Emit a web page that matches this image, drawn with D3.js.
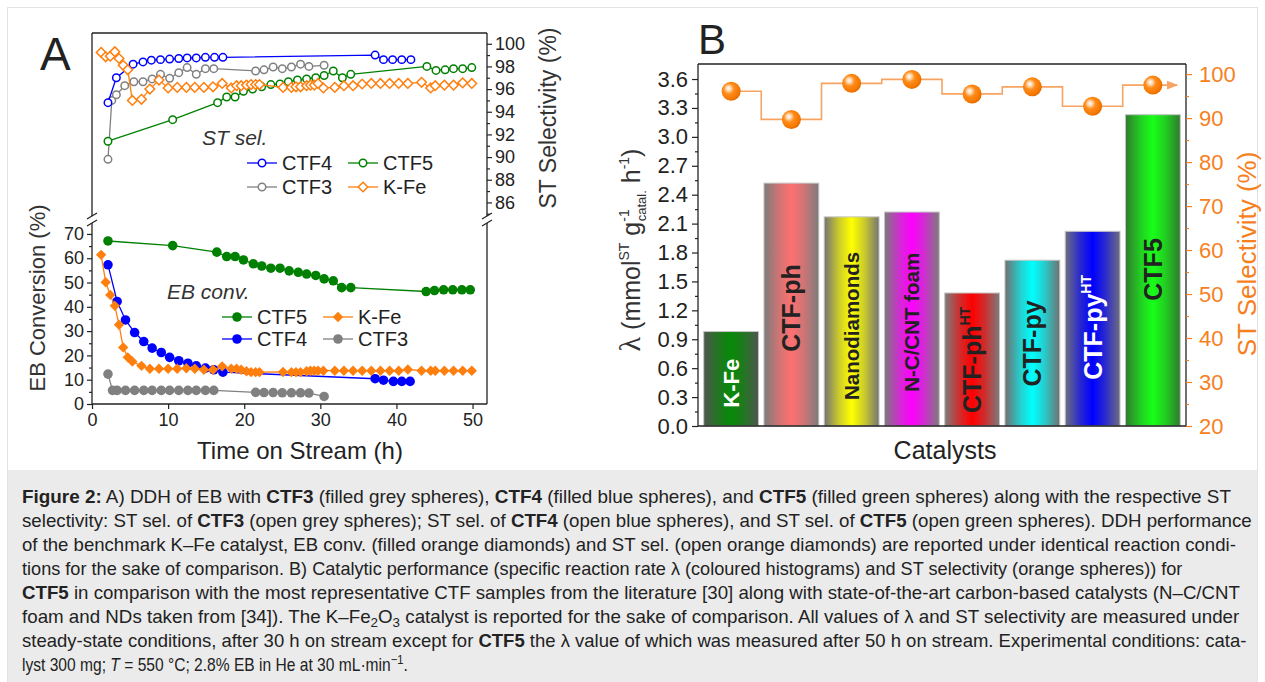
<!DOCTYPE html>
<html><head><meta charset="utf-8">
<script src="https://cdn.jsdelivr.net/npm/d3@7"></script>
<style>
body{margin:0;background:#fff;}
svg{display:block;}
</style></head><body>
<svg id="fig" width="1265" height="682"></svg>
<script>
// ---------- panel A : time on stream (h) ----------
var ctf4SelTime = [2.1,3.2,5.4,6.7,7.8,9.0,10.2,11.4,12.5,13.7,14.9,16.1,17.2,37.2,38.3,39.5,40.7,41.9];
var ctf4Sel     = [94.8,97.0,98.2,98.4,98.55,98.6,98.65,98.7,98.75,98.75,98.8,98.8,98.8,99.0,98.6,98.6,98.6,98.6];
var ctf3SelTime = [2.1,2.6,3.2,4.3,5.5,6.7,7.9,9.0,10.2,11.4,12.5,13.7,14.9,16.0,21.5,22.6,23.8,25.0,26.2,27.4,28.5,30.5];
var ctf3Sel     = [89.8,95.0,95.5,96.3,96.65,96.65,96.9,97.3,96.95,97.45,97.9,97.3,97.8,97.8,97.6,97.7,97.95,97.8,97.95,98.2,98.0,98.1];
var ctf5SelTime = [2.1,10.6,16.5,17.7,18.8,19.9,21.1,22.3,23.5,24.7,25.8,27.0,28.2,29.4,30.5,31.7,32.9,34.0,44.0,45.2,46.4,47.5,48.7,49.9];
var ctf5Sel     = [91.4,93.3,94.8,95.3,95.3,95.8,96.0,96.2,96.4,96.45,96.65,96.8,96.9,97.0,97.2,97.6,97.0,97.3,98.0,97.65,97.7,97.8,97.8,97.9];

var ctf5ConvTime = [2.1,10.6,16.4,17.7,18.8,19.9,21.2,22.3,23.5,24.7,25.9,27.1,28.2,29.4,30.5,31.7,32.8,34.0,43.9,45.0,46.2,47.4,48.6,49.7];
var ctf5Conv     = [67.1,65.2,62.5,60.7,60.7,59.3,57.7,56.8,55.9,55.9,54.8,54.2,53.5,52.9,51.5,50.7,47.9,47.9,46.3,46.7,47.0,47.0,47.0,47.0];
var ctf4ConvTime = [2.1,3.3,4.4,5.6,6.8,7.9,9.1,10.2,11.4,12.6,13.7,14.9,16.0,17.2,37.2,38.3,39.6,40.7,41.8];
var ctf4Conv     = [57.3,42.2,34.6,29.4,25.7,23.0,21.2,19.2,17.8,16.8,15.7,14.8,14.1,13.1,10.4,9.8,9.3,9.3,9.3];
var ctf3ConvTime = [2.1,2.7,3.3,4.4,5.6,6.8,7.9,9.1,10.2,11.4,12.6,13.7,14.9,16.0,21.5,22.6,23.8,25.0,26.2,27.4,28.5,30.5];
var ctf3Conv     = [12.3,5.6,5.6,5.6,5.6,5.6,5.6,5.6,5.6,5.6,5.6,5.6,5.6,5.6,4.8,4.7,4.7,4.6,4.6,4.6,4.5,3.1];

var kfeTime = [1.2,1.8,2.4,3.0,3.55,4.1,4.7,5.3,6.5,7.6,8.8,10.0,11.2,12.4,13.5,14.7,15.9,17.1,18.3,19.0,19.6,20.3,20.9,21.5,22.0,
               25.1,26.2,26.8,27.4,28.2,28.7,29.2,29.7,30.4,31.9,33.1,34.3,35.5,36.7,37.9,39.1,40.3,41.5,43.3,44.5,45.1,46.3,47.5,48.7,49.9];
var kfeConv = [61.4,50.1,44.9,40.4,32.6,23.3,19.2,17.5,15.7,14.5,14.5,14.5,14.5,14.7,14.5,14.1,14.1,15.5,14.5,14.5,14.1,13.5,13.1,13.1,13.1,
               13.2,13.1,13.1,13.1,13.5,13.7,13.7,13.7,13.7,13.7,13.7,13.7,13.7,13.7,13.7,13.7,13.7,14.2,13.7,13.7,13.7,13.7,13.7,13.7,13.7];
var kfeSel  = [99.24,98.85,98.9,99.3,98.7,98.1,97.7,95.0,95.1,96.0,96.8,96.1,96.15,96.15,96.15,96.15,96.2,96.5,96.1,96.3,96.3,96.35,96.4,96.4,96.4,
               96.15,96.15,96.2,96.2,96.3,96.35,96.35,96.5,96.1,96.15,96.3,96.3,96.45,96.5,96.5,96.5,96.5,96.5,96.6,96.1,96.3,96.35,96.35,96.55,96.5];

var timeTicks = [0,10,20,30,40,50];
var convTicks = [0,10,20,30,40,50,60,70];
var selTicksA = [86,88,90,92,94,96,98,100];

// ---------- panel B ----------
var catalysts  = ["K-Fe","CTF-ph","Nanodiamonds","N-C/CNT foam","CTF-phHT","CTF-py","CTF-pyHT","CTF5"];
var lambdaRate = [0.98,2.52,2.17,2.22,1.38,1.72,2.02,3.23];
var stSel      = [96.1,89.7,97.9,98.8,95.5,97.1,92.7,97.5];
var lambdaTicks = [0,0.3,0.6,0.9,1.2,1.5,1.8,2.1,2.4,2.7,3.0,3.3,3.6];
var selTicksB   = [20,30,40,50,60,70,80,90,100];

var FONT = '"Liberation Sans", Arial, sans-serif';
var INK = "#222";
var BLUE = "#0000ff", GREEN = "#008000", GREY = "#808080", ORANGE = "#ff7f0e";

var svg = d3.select("#fig").attr("font-family", FONT);
var defs = svg.append("defs");

svg.append("rect").attr("x", 7.5).attr("y", 7.5).attr("width", 1250).attr("height", 680)
   .attr("fill", "#fff").attr("stroke", "#e3e3e3");
svg.append("rect").attr("x", 8).attr("y", 470).attr("width", 1249).attr("height", 212).attr("fill", "#ebebeb");

function styleAxis(g, fs, color) {
  g.attr("font-family", FONT);
  g.select(".domain").remove();
  g.selectAll(".tick line").attr("stroke", color || INK).attr("stroke-width", 1.2);
  g.selectAll(".tick text").attr("font-size", fs).attr("fill", color || INK);
}
function line(g, x1, y1, x2, y2, color, w) {
  g.append("line").attr("x1", x1).attr("y1", y1).attr("x2", x2).attr("y2", y2)
   .attr("stroke", color || INK).attr("stroke-width", w || 1.3);
}

// ================= PANEL A =================
var gA = svg.append("g");
var xA = d3.scaleLinear().domain([0, 51.9]).range([92, 487]);
var yConv = d3.scaleLinear().domain([0, 74.5]).range([404, 223]);
var ySel = d3.scaleLinear().domain([84.8, 100.95]).range([216, 33]);

// frame with axis break
line(gA, 92, 33, 487, 33);
line(gA, 92, 404, 487, 404);
[92, 487].forEach(function(x) {
  line(gA, x, 33, x, 216);
  line(gA, x, 223, x, 404);
  line(gA, x - 5, 219, x + 5, 213, INK, 1.2);
  line(gA, x - 5, 226, x + 5, 220, INK, 1.2);
});

var axL = gA.append("g").attr("transform", "translate(92,0)")
  .call(d3.axisLeft(yConv).tickValues(convTicks).tickSize(5).tickPadding(3));
styleAxis(axL, 18);
var axLm = gA.append("g").attr("transform", "translate(92,0)")
  .call(d3.axisLeft(yConv).tickValues(convTicks.slice(0, -1).map(function(v){return v + 5;})).tickSize(3).tickFormat(""));
styleAxis(axLm, 18);
var axR = gA.append("g").attr("transform", "translate(487,0)")
  .call(d3.axisRight(ySel).tickValues(selTicksA).tickSize(5).tickPadding(3));
styleAxis(axR, 18);
var axRm = gA.append("g").attr("transform", "translate(487,0)")
  .call(d3.axisRight(ySel).tickValues(selTicksA.map(function(v){return v - 1;})).tickSize(3).tickFormat(""));
styleAxis(axRm, 18);
var axB = gA.append("g").attr("transform", "translate(0,404)")
  .call(d3.axisBottom(xA).tickValues(timeTicks).tickSize(5).tickPadding(4));
styleAxis(axB, 18);

var circleOpen = d3.symbol(d3.symbolCircle, 44)();
var circleFill = d3.symbol(d3.symbolCircle, 72)();
function diamond(r) { return "M0," + (-r) + "L" + r + ",0L0," + r + "L" + (-r) + ",0Z"; }

function marker(sel, shape, color) {
  var open = shape === "oc" || shape === "od";
  sel.attr("d", shape === "oc" ? circleOpen : shape === "fc" ? circleFill : shape === "od" ? diamond(4.8) : diamond(5.2))
     .attr("fill", open ? "#fff" : color)
     .attr("stroke", open ? color : "none")
     .attr("stroke-width", 1.5);
}

function drawSeries(times, vals, y, color, shape) {
  var pts = times.map(function(t, i) { return [xA(t), y(vals[i])]; });
  gA.append("path").attr("d", d3.line()(pts)).attr("fill", "none")
    .attr("stroke", color).attr("stroke-width", 1.3);
  gA.append("g").selectAll("path").data(pts).enter().append("path")
    .attr("transform", function(d) { return "translate(" + d + ")"; })
    .call(marker, shape, color);
}

drawSeries(ctf3SelTime, ctf3Sel, ySel, GREY, "oc");
drawSeries(ctf4SelTime, ctf4Sel, ySel, BLUE, "oc");
drawSeries(ctf5SelTime, ctf5Sel, ySel, GREEN, "oc");
drawSeries(kfeTime, kfeSel, ySel, ORANGE, "od");

drawSeries(ctf3ConvTime, ctf3Conv, yConv, GREY, "fc");
drawSeries(ctf4ConvTime, ctf4Conv, yConv, BLUE, "fc");
drawSeries(ctf5ConvTime, ctf5Conv, yConv, GREEN, "fc");
drawSeries(kfeTime, kfeConv, yConv, ORANGE, "fd");

// legends
function legendItem(x, y, name, color, shape) {
  line(gA, x, y, x + 30, y, color, 1.3);
  gA.append("path").attr("transform", "translate(" + (x + 15) + "," + y + ")").call(marker, shape, color);
  gA.append("text").attr("x", x + 35).attr("y", y).attr("dy", "0.35em")
    .attr("font-size", 20).attr("fill", INK).text(name);
}
gA.append("text").attr("x", 202).attr("y", 138).attr("dy", "0.35em").attr("font-size", 21)
  .attr("font-style", "italic").attr("fill", "#333").text("ST sel.");
legendItem(247, 163, "CTF4", BLUE, "oc");
legendItem(348, 163, "CTF5", GREEN, "oc");
legendItem(247, 187, "CTF3", GREY, "oc");
legendItem(348, 187, "K-Fe", ORANGE, "od");

gA.append("text").attr("x", 167).attr("y", 292).attr("dy", "0.35em").attr("font-size", 21)
  .attr("font-style", "italic").attr("fill", "#333").text("EB conv.");
legendItem(222, 317, "CTF5", GREEN, "fc");
legendItem(222, 339, "CTF4", BLUE, "fc");
legendItem(323, 317, "K-Fe", ORANGE, "fd");
legendItem(323, 339, "CTF3", GREY, "fc");

// titles
gA.append("text").attr("x", 40).attr("y", 70).attr("font-size", 46).attr("fill", INK).text("A");
gA.append("text").attr("x", 300).attr("y", 459).attr("text-anchor", "middle")
  .attr("font-size", 24).attr("fill", INK).text("Time on Stream (h)");
gA.append("text").attr("transform", "translate(45,298) rotate(-90)").attr("text-anchor", "middle")
  .attr("font-size", 22).attr("fill", "#333").text("EB Conversion (%)");
gA.append("text").attr("transform", "translate(556,118) rotate(-90)").attr("text-anchor", "middle")
  .attr("font-size", 23).attr("fill", "#333").text("ST Selectivity (%)");

// ================= PANEL B =================
var gB = svg.append("g");
var xB = d3.scaleBand().domain(catalysts).range([698, 1186]).paddingInner(0.09).paddingOuter(0.095);
var yL = d3.scaleLinear().domain([0, 3.756]).range([426, 64]);
var yR = d3.scaleLinear().domain([20, 102.3]).range([426, 64]);

var barEdge   = ["#4e564e","#7c7c7c","#747474","#7c7c7c","#7c7c7c","#707070","#6e6e7e","#2f7a2f"];
var barCenter = ["#078a07","#ff7070","#ffff00","#ff00ff","#ff0000","#00ffff","#0000ff","#19ff19"];
catalysts.forEach(function(c, i) {
  var gr = defs.append("linearGradient").attr("id", "bar" + i);
  var mid = d3.interpolateRgb(barEdge[i], barCenter[i])(0.65);
  [[0, barEdge[i]], [0.28, mid], [0.5, barCenter[i]], [0.72, mid], [1, barEdge[i]]].forEach(function(s) {
    gr.append("stop").attr("offset", s[0]).attr("stop-color", s[1]);
  });
});
var sph = defs.append("radialGradient").attr("id", "sphere").attr("cx", "0.4").attr("cy", "0.4").attr("r", "0.62")
  .attr("fx", "0.36").attr("fy", "0.34");
[[0, "#ffffff"], [0.2, "#ffd9b0"], [0.45, "#ff8c1a"], [0.85, "#f57800"], [1, "#e06a00"]].forEach(function(s) {
  sph.append("stop").attr("offset", s[0]).attr("stop-color", s[1]);
});
defs.append("marker").attr("id", "arrow").attr("viewBox", "0 0 10 10").attr("refX", 9).attr("refY", 5)
  .attr("markerWidth", 7).attr("markerHeight", 7).attr("orient", "auto")
  .append("path").attr("d", "M0,1L10,5L0,9Z").attr("fill", "#f7a463");

gB.append("g").selectAll("rect").data(catalysts).enter().append("rect")
  .attr("x", function(d) { return xB(d); })
  .attr("y", function(d, i) { return yL(lambdaRate[i]); })
  .attr("width", xB.bandwidth())
  .attr("height", function(d, i) { return yL(0) - yL(lambdaRate[i]); })
  .attr("fill", function(d, i) { return "url(#bar" + i + ")"; })
  .attr("stroke", "#c4c4c4").attr("stroke-width", 1);

// bar labels (start position in lambda units, colour)
var labelStart = [0.19, 0.77, 0.27, 0.355, 0.135, 0.41, 0.48, 1.30];
var labelSize  = [22, 25, 20.5, 20.5, 25, 25, 25, 25];
var labelColor = ["#fff", INK, INK, INK, INK, INK, "#fff", INK];
catalysts.forEach(function(c, i) {
  var cx = xB(c) + xB.bandwidth() / 2;
  var t = gB.append("text").attr("transform", "translate(" + cx + "," + yL(labelStart[i]) + ") rotate(-90)")
    .attr("dy", "0.36em").attr("font-weight", "bold").attr("font-size", labelSize[i]).attr("fill", labelColor[i]);
  if (/HT$/.test(c)) {
    t.append("tspan").text(c.replace(/HT$/, ""));
    t.append("tspan").attr("font-size", 14).attr("dy", -11).text("HT");
  } else {
    t.text(c);
  }
});

// selectivity steps and spheres
var selPts = catalysts.map(function(c, i) { return [xB(c) + xB.bandwidth() / 2, yR(stSel[i])]; });
var lastPt = selPts[selPts.length - 1];
gB.append("path").attr("d", d3.line().curve(d3.curveStep)(selPts.concat([[1177, lastPt[1]]])))
  .attr("fill", "none").attr("stroke", "#f7a463").attr("stroke-width", 1.6).attr("marker-end", "url(#arrow)");
gB.append("g").selectAll("circle").data(selPts).enter().append("circle")
  .attr("cx", function(d) { return d[0]; }).attr("cy", function(d) { return d[1]; })
  .attr("r", 9.5).attr("fill", "url(#sphere)");

// frame and axes
line(gB, 698, 64, 1186, 64);
line(gB, 698, 426, 1186, 426);
line(gB, 698, 64, 698, 426);
line(gB, 1186, 64, 1186, 426);

var bl = gB.append("g").attr("transform", "translate(698,0)")
  .call(d3.axisLeft(yL).tickValues(lambdaTicks).tickFormat(d3.format(".1f")).tickSize(6).tickPadding(4));
styleAxis(bl, 22);
var blm = gB.append("g").attr("transform", "translate(698,0)")
  .call(d3.axisLeft(yL).tickValues(lambdaTicks.slice(0, -1).map(function(v){return v + 0.15;})).tickSize(3).tickFormat(""));
styleAxis(blm, 22);
var br = gB.append("g").attr("transform", "translate(1186,0)")
  .call(d3.axisRight(yR).tickValues(selTicksB).tickSize(6).tickPadding(7));
styleAxis(br, 22, "#f7801e");
var brm = gB.append("g").attr("transform", "translate(1186,0)")
  .call(d3.axisRight(yR).tickValues(selTicksB.slice(0, -1).map(function(v){return v + 5;})).tickSize(3).tickFormat(""));
styleAxis(brm, 22, "#f7801e");

gB.append("text").attr("x", 698).attr("y", 54).attr("font-size", 42).attr("fill", INK).text("B");
gB.append("text").attr("x", 945).attr("y", 459).attr("text-anchor", "middle")
  .attr("font-size", 25).attr("fill", INK).text("Catalysts");
gB.append("text").attr("transform", "translate(1256,254) rotate(-90)").attr("text-anchor", "middle")
  .attr("font-size", 26).attr("fill", "#f7801e").text("ST Selectivity (%)");

var lt = gB.append("text").attr("transform", "translate(640,250) rotate(-90)").attr("text-anchor", "middle")
  .attr("font-size", 25).attr("fill", "#333");
lt.append("tspan").attr("font-family", '"Liberation Serif", serif').attr("font-size", 30).text("λ");
lt.append("tspan").text(" (mmol");
lt.append("tspan").attr("font-size", 14).attr("dy", -11).text("ST");
lt.append("tspan").attr("dy", 11).text(" g");
lt.append("tspan").attr("font-size", 14).attr("dy", -11).text("-1");
lt.append("tspan").attr("font-size", 13).attr("dx", -12).attr("dy", 17).text("catal.");
lt.append("tspan").attr("dy", -6).text(" h");
lt.append("tspan").attr("font-size", 14).attr("dy", -11).text("-1");
lt.append("tspan").attr("dy", 11).text(")");

// ================= CAPTION =================
var captionLines = [
  "**Figure 2:** A) DDH of EB with **CTF3** (filled grey spheres), **CTF4** (filled blue spheres), and **CTF5** (filled green spheres) along with the respective ST",
  "selectivity: ST sel. of **CTF3** (open grey spheres); ST sel. of **CTF4** (open blue spheres), and ST sel. of **CTF5** (open green spheres). DDH performance",
  "of the benchmark K–Fe catalyst, EB conv. (filled orange diamonds) and ST sel. (open orange diamonds) are reported under identical reaction condi-",
  "tions for the sake of comparison. B) Catalytic performance (specific reaction rate λ (coloured histograms) and ST selectivity (orange spheres)) for",
  "**CTF5** in comparison with the most representative CTF samples from the literature [30] along with state-of-the-art carbon-based catalysts (N–C/CNT",
  "foam and NDs taken from [34]). The K–Fe~2~O~3~ catalyst is reported for the sake of comparison. All values of λ and ST selectivity are measured under",
  "steady-state conditions, after 30 h on stream except for **CTF5** the λ value of which was measured after 50 h on stream. Experimental conditions: cata-",
  "lyst 300 mg; _T_ = 550 °C; 2.8% EB in He at 30 mL·min^−1^."
];
var captionEnds = [1232, 1252, 1237, 1183, 1241, 1240, 1247, 408];

// each line is fitted to its measured width with a horizontal scale
captionLines.forEach(function(s, i) {
  var t = svg.append("text").attr("x", 0).attr("y", 0).attr("font-size", 17.5).attr("fill", INK);
  var shift = 0;
  s.split(/(\*\*[^*]+\*\*|_[^_]+_|~[^~]+~|\^[^^]+\^)/).forEach(function(p) {
    if (!p) return;
    var sp = t.append("tspan");
    var dy = 0;
    if (p.indexOf("**") === 0) { sp.attr("font-weight", "bold").text(p.slice(2, -2)); }
    else if (p[0] === "_") { sp.attr("font-style", "italic").text(p.slice(1, -1)); }
    else if (p[0] === "~") { sp.attr("font-size", 12.5); dy = 4; sp.text(p.slice(1, -1)); }
    else if (p[0] === "^") { sp.attr("font-size", 12.5); dy = -7; sp.text(p.slice(1, -1)); }
    else { sp.text(p); }
    if (dy - shift !== 0) sp.attr("dy", dy - shift);
    shift = dy;
  });
  var natural = t.node().getComputedTextLength();
  var sx = Math.max(0.75, Math.min(1.3, (captionEnds[i] - 22) / natural));
  t.attr("transform", "translate(22," + (503 + i * 24) + ") scale(" + sx.toFixed(4) + ",1)");
});
</script></body></html>
